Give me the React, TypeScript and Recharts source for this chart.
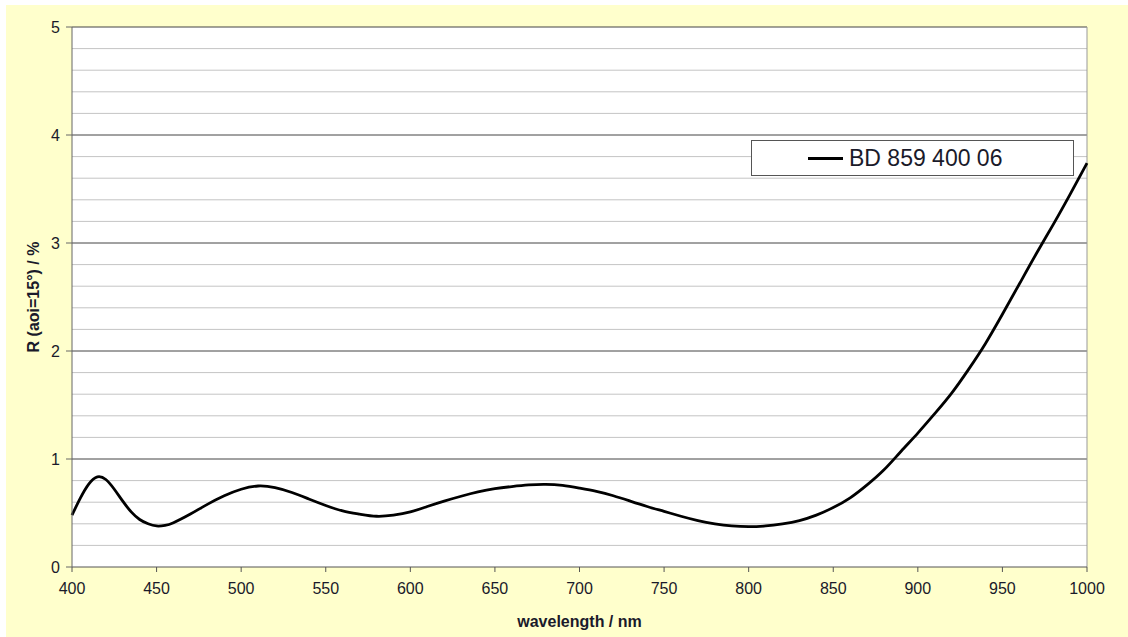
import { Line, LineChart, ReferenceLine, XAxis, YAxis } from "recharts";

const wavelengths = [
  400, 405, 410, 415, 420, 425, 430, 435, 440, 445, 450, 455, 460, 470, 480, 490, 500, 510, 520, 530,
  540, 550, 560, 570, 580, 590, 600, 610, 620, 630, 640, 650, 660, 670, 680, 690, 700, 710, 720, 730,
  740, 750, 760, 770, 780, 790, 800, 810, 820, 830, 840, 850, 860, 870, 880, 890, 900, 910, 920, 930,
  940, 950, 960, 970, 980, 990, 1000,
];
const reflectance = [
  0.48, 0.64, 0.77, 0.835, 0.81, 0.72, 0.61, 0.51, 0.44, 0.4, 0.38, 0.385, 0.41, 0.49, 0.58, 0.66, 0.72, 0.75, 0.735, 0.69,
  0.63, 0.57, 0.52, 0.49, 0.47, 0.48, 0.51, 0.56, 0.61, 0.655, 0.695, 0.725, 0.745, 0.76, 0.765, 0.755, 0.73, 0.7, 0.66, 0.61,
  0.56, 0.515, 0.47, 0.43, 0.4, 0.38, 0.373, 0.38, 0.4, 0.43, 0.48, 0.55, 0.64, 0.76, 0.9, 1.07, 1.24, 1.42, 1.61, 1.83,
  2.07, 2.34, 2.62, 2.9, 3.17, 3.45, 3.74,
];
const seriesName = "BD 859 400 06";
const xTicks = [400, 450, 500, 550, 600, 650, 700, 750, 800, 850, 900, 950, 1000];
const yTicks = [0, 1, 2, 3, 4, 5];
const minorLines = [0.2, 0.4, 0.6, 0.8, 1.2, 1.4, 1.6, 1.8, 2.2, 2.4, 2.6, 2.8, 3.2, 3.4, 3.6, 3.8, 4.2, 4.4, 4.6, 4.8];
const majorLines = [1, 2, 3, 4, 5];

const rows = wavelengths.map((w, i) => ({ w, r: reflectance[i] }));

const font = "'Liberation Sans', Arial, sans-serif";
const textColor = "#1a1a2a";

function LegendBox() {
  return (
    <div
      style={{
        position: "absolute",
        left: 751,
        top: 140,
        width: 321,
        height: 34,
        border: "1px solid #555",
        background: "#fff",
        display: "flex",
        alignItems: "center",
        fontFamily: font,
        fontSize: 23,
        color: textColor,
      }}
    >
      <span style={{ display: "inline-block", width: 35, height: 3, background: "#000", marginLeft: 56, marginRight: 6 }} />
      <span>{seriesName}</span>
    </div>
  );
}

export default function App() {
  return (
    <div style={{ position: "fixed", left: 0, top: 0, width: 1128, height: 637, background: "#fff" }}>
      <div style={{ position: "absolute", left: 6, top: 5, width: 1122, height: 632, background: "#ffffcc" }} />
      <div style={{ position: "absolute", left: 72, top: 27, width: 1015, height: 540, background: "#fff" }} />
      <div style={{ position: "absolute", left: 0, top: 0 }}>
        <LineChart width={1128} height={637} data={rows} margin={{ top: 27, right: 41, bottom: 0, left: 0 }}>
          <XAxis
            dataKey="w"
            type="number"
            domain={[400, 1000]}
            ticks={xTicks}
            height={70}
            tickSize={5}
            tickMargin={11}
            stroke="#555"
            tick={{ fill: textColor, fontSize: 16, fontFamily: font }}
            label={{
              content: () => (
                <text x={579.5} y={627} textAnchor="middle" fontFamily={font} fontSize={16} fontWeight="bold" fill={textColor}>
                  wavelength / nm
                </text>
              ),
            }}
          />
          <YAxis
            type="number"
            domain={[0, 5]}
            ticks={yTicks}
            width={72}
            tickSize={6}
            tickMargin={6}
            stroke="#666"
            tick={{ fill: textColor, fontSize: 16, fontFamily: font }}
            label={{
              content: () => (
                <text
                  x={33}
                  y={297}
                  transform="rotate(-90, 33, 297)"
                  textAnchor="middle"
                  dominantBaseline="central"
                  fontFamily={font}
                  fontSize={16}
                  fontWeight="bold"
                  fill={textColor}
                >
                  R (aoi=15°) / %
                </text>
              ),
            }}
          />
          {minorLines.map((v) => (
            <ReferenceLine key={"m" + v} y={v} stroke="#c4c4c4" strokeWidth={1} />
          ))}
          {majorLines.map((v) => (
            <ReferenceLine key={"M" + v} y={v} stroke="#444" strokeWidth={1} />
          ))}
          <ReferenceLine x={1000} stroke="#999" strokeWidth={1} />
          <Line
            type="natural"
            dataKey="r"
            name={seriesName}
            stroke="#000"
            strokeWidth={2.8}
            dot={false}
            isAnimationActive={false}
          />
        </LineChart>
      </div>
      <LegendBox />
    </div>
  );
}
